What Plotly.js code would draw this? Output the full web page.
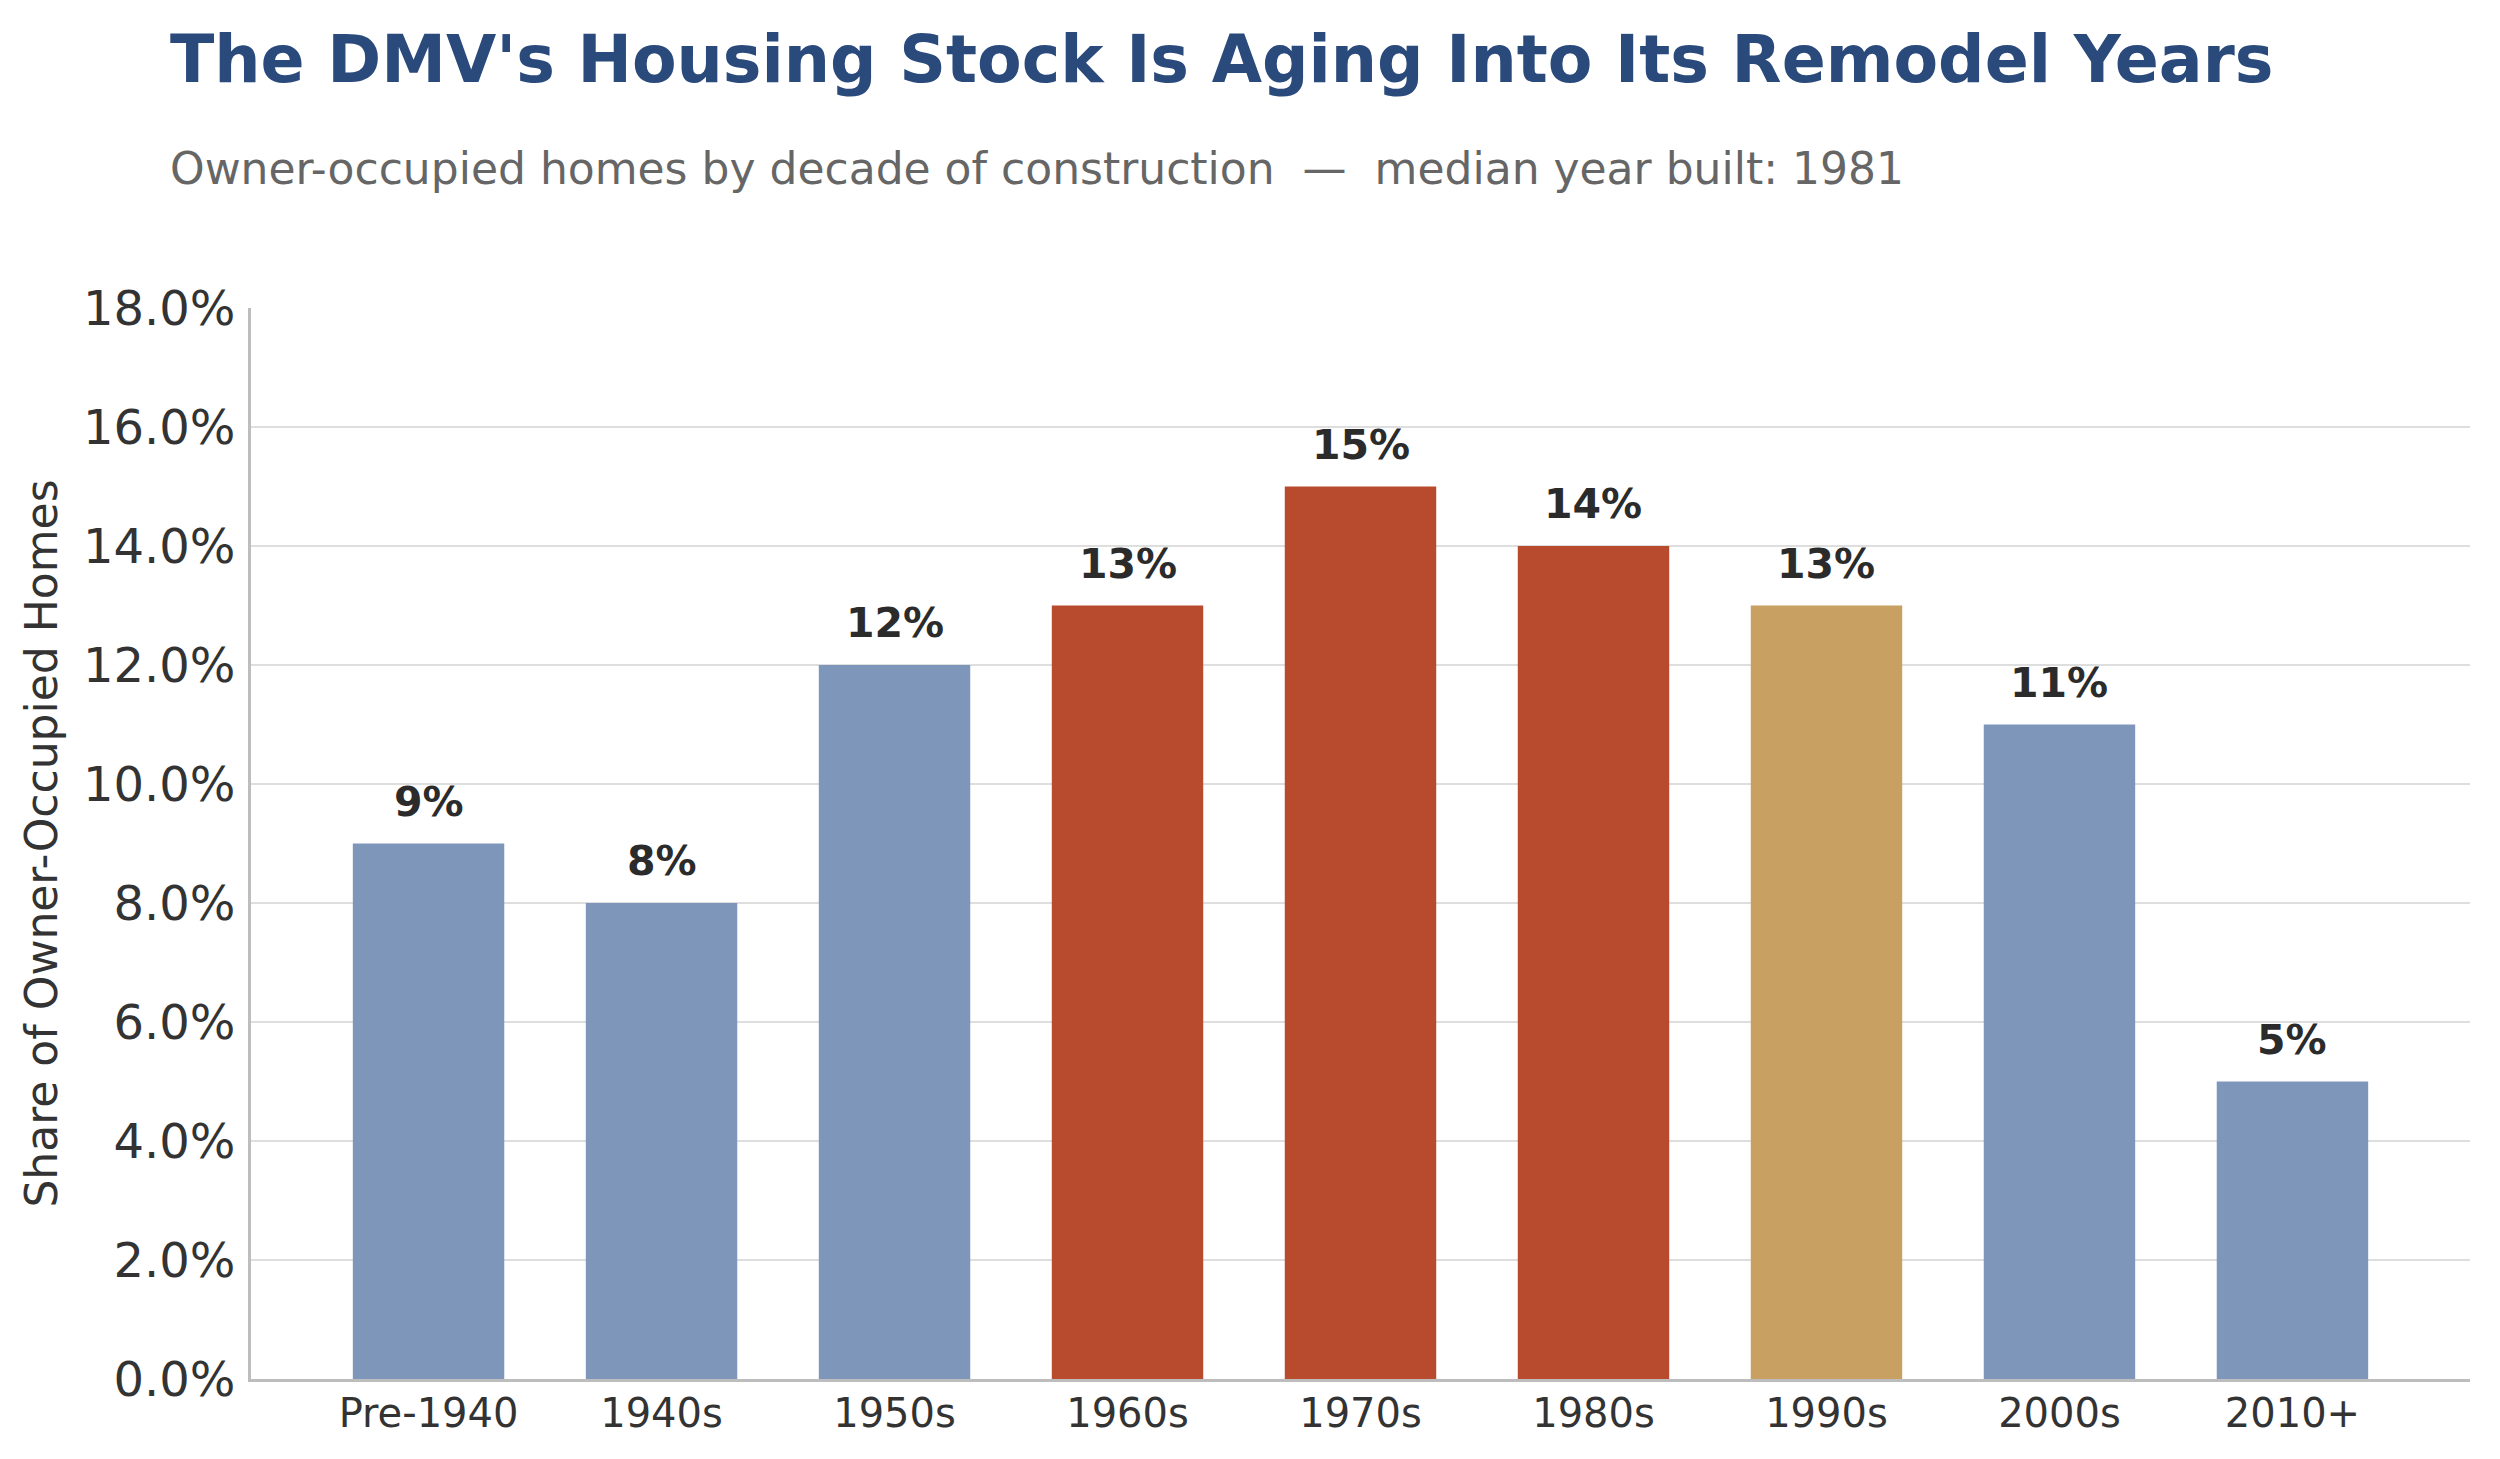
<!DOCTYPE html>
<html>
<head>
<meta charset="utf-8">
<script src="https://cdn.plot.ly/plotly-3.0.1.min.js"></script>
<style>
  html, body { margin: 0; padding: 0; background: #ffffff; }
  #chart { width: 2500px; height: 1459px; }
</style>
</head>
<body>
<div id="chart"></div>
<script>
// ---- Data ----
const categories = ["Pre-1940", "1940s", "1950s", "1960s", "1970s", "1980s", "1990s", "2000s", "2010+"];
const sharePct = [9, 8, 12, 13, 15, 14, 13, 11, 5];
const barLabels = ["9%", "8%", "12%", "13%", "15%", "14%", "13%", "11%", "5%"];
const barGroup = ["other", "other", "other", "peak", "peak", "peak", "median", "other", "other"];
const yTickVals = [0, 2, 4, 6, 8, 10, 12, 14, 16, 18];
const yTickText = ["0.0%", "2.0%", "4.0%", "6.0%", "8.0%", "10.0%", "12.0%", "14.0%", "16.0%", "18.0%"];

// ---- Styles ----
const groupColor = { other: "#7f96bb", peak: "#b84b2d", median: "#c8a062" };
const FONT = "DejaVu Sans, Verdana, sans-serif";

const trace = {
  type: "bar",
  x: categories,
  y: sharePct,
  width: 0.65,
  marker: { color: barGroup.map(g => groupColor[g]), line: { width: 0 } },
  hoverinfo: "skip"
};

const annotations = categories.map((c, i) => ({
  x: c, y: sharePct[i], xref: "x", yref: "y",
  text: "<b>" + barLabels[i] + "</b>",
  showarrow: false, yanchor: "bottom", yshift: 16,
  font: { family: FONT, size: 41, color: "#2b2b2b" }
}));

annotations.push({
  xref: "paper", yref: "paper", x: -0.0374, y: 1.195, xanchor: "left", yanchor: "bottom",
  text: "<b>The DMV's Housing Stock Is Aging Into Its Remodel Years</b>",
  showarrow: false, font: { family: FONT, size: 65, color: "#2a4a7c" }
});
annotations.push({
  xref: "paper", yref: "paper", x: -0.0374, y: 1.105, xanchor: "left", yanchor: "bottom",
  text: "Owner-occupied homes by decade of construction  \u2014  median year built: 1981",
  showarrow: false, font: { family: FONT, size: 44, color: "#666666" }
});

const layout = {
  width: 2500, height: 1459,
  paper_bgcolor: "#ffffff", plot_bgcolor: "#ffffff",
  margin: { l: 251, r: 30, t: 308, b: 80, autoexpand: false },
  showlegend: false,
  font: { family: FONT, color: "#333333" },
  xaxis: {
    type: "category",
    range: [-0.762, 8.762],
    showgrid: false, zeroline: false,
    showline: true, linecolor: "#bdbdbd", linewidth: 3,
    ticks: "", ticklabelstandoff: -3,
    tickfont: { family: FONT, size: 40, color: "#333333" },
    fixedrange: true
  },
  yaxis: {
    range: [0, 18],
    tickvals: yTickVals, ticktext: yTickText,
    showgrid: true, gridcolor: "#dedede", gridwidth: 2.5,
    zeroline: false,
    showline: true, linecolor: "#bdbdbd", linewidth: 3,
    ticks: "", ticklabelstandoff: 3,
    tickfont: { family: FONT, size: 48, color: "#333333" },
    title: { text: "Share of Owner-Occupied Homes", standoff: 12,
             font: { family: FONT, size: 44, color: "#333333" } },
    fixedrange: true
  },
  annotations: annotations
};

Plotly.newPlot("chart", [trace], layout, { displayModeBar: false, staticPlot: true });
</script>
</body>
</html>
